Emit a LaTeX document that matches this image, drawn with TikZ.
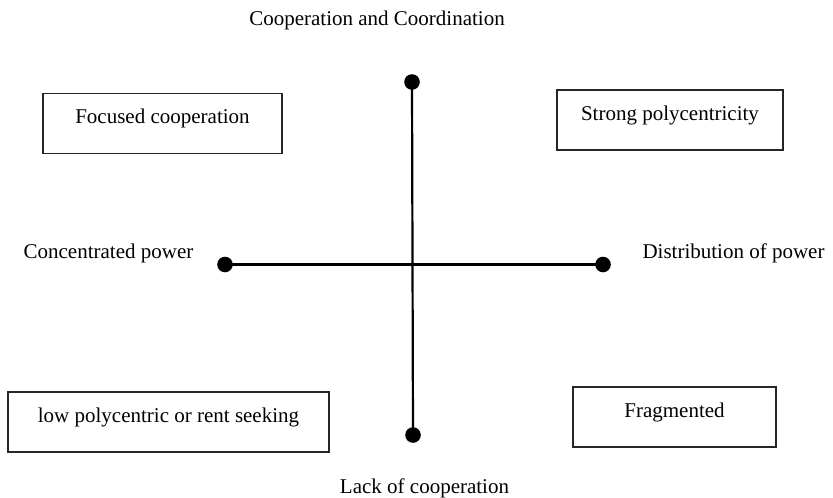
\documentclass[tikz,border=0pt]{standalone}
\usepackage{fontspec}
\setmainfont{Liberation Serif}
\usetikzlibrary{positioning}

\tikzset{
  quadbox/.style={draw=black!85, line width=1.2pt, inner sep=0pt,
    text height=30pt, text depth=30pt, font=\fontsize{21}{25}\selectfont},
  axislabel/.style={anchor=base, inner sep=0pt, font=\fontsize{21}{25}\selectfont},
  enddot/.style={circle, fill=black, inner sep=0pt, minimum size=15.6pt}
}

\begin{document}
\begin{tikzpicture}[x=1pt, y=-1pt]
\useasboundingbox (0,0) rectangle (833,498);

% Axis end points
\node[enddot] (top) at (412,82) {};
\node[enddot] (bottom) at (413,435) {};
\node[enddot] (left) at (225,264.5) {};
\node[enddot] (right) at (603,264.5) {};

% Axes
\draw[line width=2.2pt] (top.center) -- (bottom.center);
\draw[line width=2.2pt] (left.center) -- (right.center);

% Axis labels
\node[axislabel] (coop) at (377,25) {Cooperation and Coordination};
\node[axislabel] (lack) at (424.5,493) {Lack of cooperation};
\node[axislabel] (conc) at (108.5,258) {Concentrated power};
\node[axislabel] (dist) at (733.5,258) {Distribution of power};

% Quadrants
\node[quadbox, minimum width=239pt] (focused) at (162.5,123.5) {Focused cooperation};
\node[quadbox, minimum width=226pt] (strong) at (670,120) {Strong polycentricity};
\node[quadbox, minimum width=321pt] (low) at (168.5,422) {low polycentric or rent seeking};
\node[quadbox, minimum width=203pt] (frag) at (674.5,417) {Fragmented};
\end{tikzpicture}
\end{document}
